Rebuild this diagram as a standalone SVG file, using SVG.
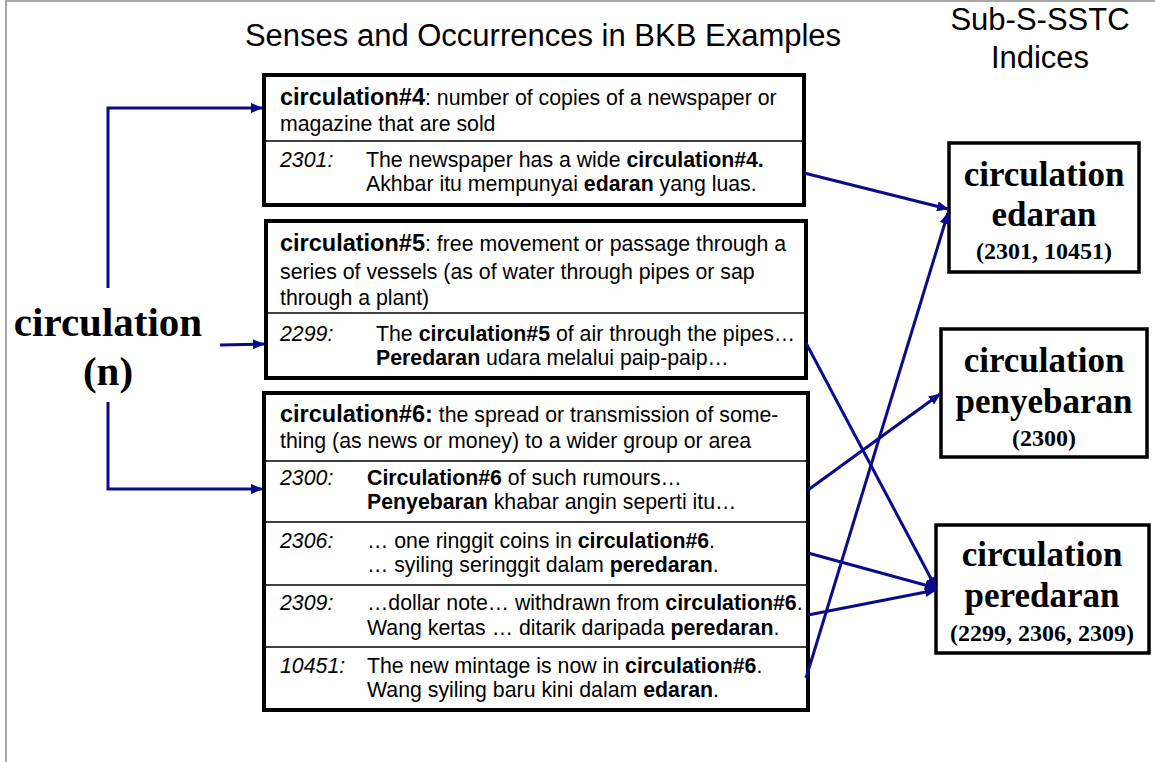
<svg xmlns="http://www.w3.org/2000/svg" width="1155" height="762" viewBox="0 0 1155 762">
  <defs>
    <marker id="arrow" viewBox="0 0 12 10" refX="11" refY="5" markerWidth="12" markerHeight="10" markerUnits="userSpaceOnUse" orient="auto">
      <path d="M0,0 L12,5 L0,10 z" fill="#0b0b8a"/>
    </marker>
    <style>
      .frame { fill: none; stroke: #8a8a8a; stroke-width: 1.5; }
      .sense { fill: #fff; stroke: #000; stroke-width: 4; }
      .div { stroke: #000; stroke-width: 1.5; }
      .index { fill: #fff; stroke: #000; stroke-width: 3.5; }
      .sans { font-family: "Liberation Sans", Arial, sans-serif; fill: #000; }
      .body { font-size: 21.3px; }
      .head { font-size: 23.5px; font-weight: bold; }
      .num { font-style: italic; }
      .b { font-weight: bold; }
      .title { font-size: 31px; }
      .serif { font-family: "Liberation Serif", "Times New Roman", serif; font-weight: bold; fill: #000; text-anchor: middle; }
      .big { font-size: 35px; }
      .small { font-size: 24px; }
      .word { font-size: 41px; }
      .link { fill: none; stroke: #0b0b8a; stroke-width: 3; }
      .arr { marker-end: url(#arrow); }
    </style>
  </defs>

  <rect x="0" y="0" width="1155" height="762" fill="#fff"/>
  <rect class="frame" x="6" y="1" width="1170" height="790"/>

  <!-- headings -->
  <text class="sans title" x="543" y="46" text-anchor="middle">Senses and Occurrences in BKB Examples</text>
  <text class="sans title" x="1040" y="30" text-anchor="middle">Sub-S-SSTC</text>
  <text class="sans title" x="1040" y="68" text-anchor="middle">Indices</text>

  <!-- headword -->
  <g id="headword">
    <text class="serif word" x="108" y="336">circulation</text>
    <text class="serif word" x="108" y="385">(n)</text>
  </g>

  <!-- sense #4 -->
  <g id="sense4">
    <rect class="sense" x="264" y="75" width="540" height="130"/>
    <line class="div" x1="264" y1="141" x2="804" y2="141"/>
    <text class="sans body" x="280" y="105"><tspan class="head">circulation#4</tspan>: number of copies of a newspaper or</text>
    <text class="sans body" x="280" y="131">magazine that are sold</text>
    <text class="sans body num" x="280" y="167">2301:</text>
    <text class="sans body" x="366" y="167">The newspaper has a wide <tspan class="b">circulation#4.</tspan></text>
    <text class="sans body" x="366" y="191">Akhbar itu mempunyai <tspan class="b">edaran</tspan> yang luas.</text>
  </g>

  <!-- sense #5 -->
  <g id="sense5">
    <rect class="sense" x="266" y="221" width="540" height="157"/>
    <line class="div" x1="266" y1="313" x2="806" y2="313"/>
    <text class="sans body" x="280" y="251"><tspan class="head">circulation#5</tspan>: free movement or passage through a</text>
    <text class="sans body" x="280" y="279">series of vessels (as of water through pipes or sap</text>
    <text class="sans body" x="280" y="305">through a plant)</text>
    <text class="sans body num" x="280" y="341">2299:</text>
    <text class="sans body" x="376" y="341">The <tspan class="b">circulation#5</tspan> of air through the pipes…</text>
    <text class="sans body" x="376" y="365"><tspan class="b">Peredaran</tspan> udara melalui paip-paip…</text>
  </g>

  <!-- sense #6 -->
  <g id="sense6">
    <rect class="sense" x="264" y="393" width="544" height="317"/>
    <line class="div" x1="264" y1="461" x2="808" y2="461"/>
    <line class="div" x1="264" y1="522" x2="808" y2="522"/>
    <line class="div" x1="264" y1="585" x2="808" y2="585"/>
    <line class="div" x1="264" y1="647" x2="808" y2="647"/>
    <text class="sans body" x="280" y="422"><tspan class="head">circulation#6:</tspan> the spread or transmission of some-</text>
    <text class="sans body" x="280" y="448">thing (as news or money) to a wider group or area</text>
    <text class="sans body num" x="280" y="485">2300:</text>
    <text class="sans body" x="367" y="485"><tspan class="b">Circulation#6</tspan> of such rumours…</text>
    <text class="sans body" x="367" y="509"><tspan class="b">Penyebaran</tspan> khabar angin seperti itu…</text>
    <text class="sans body num" x="280" y="548">2306:</text>
    <text class="sans body" x="367" y="548">… one ringgit coins in <tspan class="b">circulation#6</tspan>.</text>
    <text class="sans body" x="367" y="572">… syiling seringgit dalam <tspan class="b">peredaran</tspan>.</text>
    <text class="sans body num" x="280" y="610">2309:</text>
    <text class="sans body" x="367" y="610">…dollar note… withdrawn from <tspan class="b">circulation#6</tspan>.</text>
    <text class="sans body" x="367" y="635">Wang kertas … ditarik daripada <tspan class="b">peredaran</tspan>.</text>
    <text class="sans body num" x="280" y="673">10451:</text>
    <text class="sans body" x="367" y="673">The new mintage is now in <tspan class="b">circulation#6</tspan>.</text>
    <text class="sans body" x="367" y="697">Wang syiling baru kini dalam <tspan class="b">edaran</tspan>.</text>
  </g>

  <!-- target indices -->
  <g id="idx-edaran">
    <rect class="index" x="949" y="143" width="190" height="129"/>
    <text class="serif big" x="1044" y="186">circulation</text>
    <text class="serif big" x="1044" y="226">edaran</text>
    <text class="serif small" x="1044" y="259">(2301, 10451)</text>
  </g>
  <g id="idx-penyebaran">
    <rect class="index" x="941" y="329" width="206" height="128"/>
    <text class="serif big" x="1044" y="372">circulation</text>
    <text class="serif big" x="1044" y="413">penyebaran</text>
    <text class="serif small" x="1044" y="446">(2300)</text>
  </g>
  <g id="idx-peredaran">
    <rect class="index" x="936" y="525" width="213" height="128"/>
    <text class="serif big" x="1042" y="566">circulation</text>
    <text class="serif big" x="1042" y="607">peredaran</text>
    <text class="serif small" x="1042" y="641">(2299, 2306, 2309)</text>
  </g>

  <!-- connectors -->
  <g id="connectors">
    <polyline class="link arr" points="108,288 108,108 262,108"/>
    <line class="link arr" x1="220" y1="345" x2="264" y2="344"/>
    <polyline class="link arr" points="108,402 108,489 262,489"/>
    <line class="link arr" x1="804" y1="173" x2="948" y2="209"/>
    <line class="link arr" x1="806" y1="678" x2="948" y2="213"/>
    <line class="link arr" x1="806" y1="343" x2="936" y2="588"/>
    <line class="link arr" x1="808" y1="490" x2="940" y2="394"/>
    <line class="link arr" x1="808" y1="553" x2="936" y2="588"/>
    <line class="link arr" x1="808" y1="615" x2="936" y2="590"/>
  </g>
</svg>
